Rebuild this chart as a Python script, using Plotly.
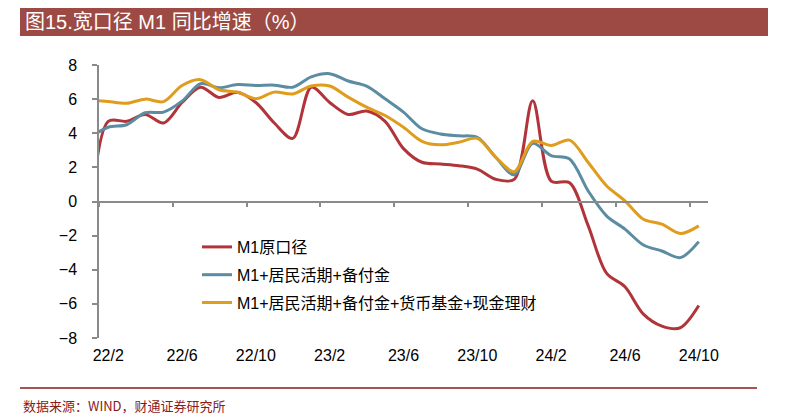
import plotly.graph_objects as go

# ---- data ----
months = ["22/1", "22/2", "22/3", "22/4", "22/5", "22/6", "22/7", "22/8", "22/9", "22/10", "22/11", "22/12",
          "23/1", "23/2", "23/3", "23/4", "23/5", "23/6", "23/7", "23/8", "23/9", "23/10", "23/11", "23/12",
          "24/1", "24/2", "24/3", "24/4", "24/5", "24/6", "24/7", "24/8", "24/9", "24/10"]

m1_raw = [-1.9, 4.7, 4.7, 5.1, 4.6, 5.8, 6.7, 6.1, 6.4, 5.8, 4.6, 3.7,
          6.7, 5.8, 5.1, 5.3, 4.7, 3.1, 2.3, 2.2, 2.1, 1.9, 1.3, 1.3,
          5.9, 1.2, 1.1, -1.4, -4.2, -5.0, -6.6, -7.3, -7.4, -6.1]

m1_plus_hh = [3.75, 4.35, 4.5, 5.2, 5.24, 5.88, 6.9, 6.67, 6.85, 6.8, 6.82, 6.7,
              7.3, 7.49, 7.06, 6.76, 6.02, 5.24, 4.26, 3.96, 3.85, 3.76, 2.59, 1.57,
              3.41, 2.69, 2.49, 0.63, -0.84, -1.62, -2.55, -2.9, -3.29, -2.35]

m1_plus_all = [5.95, 5.86, 5.76, 6.0, 5.85, 6.8, 7.14, 6.55, 6.41, 6.02, 6.41, 6.3,
               6.77, 6.77, 6.12, 5.53, 5.04, 4.35, 3.53, 3.32, 3.47, 3.7, 2.59, 1.75,
               3.53, 3.28, 3.6, 2.3, 0.92, 0.04, -1.04, -1.33, -1.88, -1.43]

series_names = ["M1原口径", "M1+居民活期+备付金", "M1+居民活期+备付金+货币基金+现金理财"]
label_months = ["22/2", "22/6", "22/10", "23/2", "23/6", "23/10", "24/2", "24/6", "24/10"]

title_text = "图15.宽口径 M1 同比增速（%）"
source_text = "数据来源：WIND，财通证券研究所"

# ---- figure ----
colors = ["#B0343A", "#5B8CA1", "#E09C1C"]
xidx = list(range(len(months)))

fig = go.Figure()
for i, (name, vals) in enumerate(zip(series_names, [m1_raw, m1_plus_hh, m1_plus_all])):
    fig.add_trace(go.Scatter(
        x=xidx, y=vals, name=name, mode="lines",
        line=dict(color=colors[i], width=3, shape="spline", smoothing=0.9),
        legendgroup=f"g{i}", hoverinfo="skip",
    ))

W, H = 786, 419
L, R, T, B = 99, 78, 65, 81
pw, ph = W - L - R, H - T - B

def px_x(p):
    return (p - L) / pw

def px_y(p):
    return (H - B - p) / ph

tickvals = [months.index(m) for m in label_months]

fig.update_layout(
    width=W, height=H,
    margin=dict(l=L, r=R, t=T, b=B),
    paper_bgcolor="white", plot_bgcolor="white",
    font=dict(family="Liberation Sans, Arial, Noto Sans CJK SC", size=16, color="black"),
    xaxis=dict(
        range=[0.5, len(months) - 0.5],
        anchor="free", position=0.5,
        showline=True, linecolor="#8a8a8a", linewidth=1.5,
        showgrid=False, zeroline=False,
        tickmode="array", tickvals=tickvals, ticktext=label_months,
        ticks="", ticklabelstandoff=140,
        tickfont=dict(size=16, color="black"),
        minor=dict(tickmode="linear", tick0=0.5, dtick=4, ticks="outside",
                   ticklen=5, tickwidth=1.5, tickcolor="#8a8a8a", showgrid=False),
    ),
    yaxis=dict(
        range=[-8, 8], dtick=2, tick0=0,
        showline=True, linecolor="#8a8a8a", linewidth=1.5,
        showgrid=False, zeroline=False,
        ticks="outside", ticklen=5, tickwidth=1.5, tickcolor="#8a8a8a",
        ticklabelstandoff=12,
        tickfont=dict(size=16, color="black"),
    ),
    legend=dict(
        x=px_x(197), y=px_y(230), xanchor="left", yanchor="top",
        bgcolor="rgba(0,0,0,0)", tracegroupgap=4,
        font=dict(family="Liberation Sans, Arial, Noto Sans CJK SC", size=16, color="black"),
    ),
    showlegend=True,
    shapes=[
        dict(type="rect", xref="paper", yref="paper",
             x0=px_x(20), x1=px_x(768), y0=px_y(36), y1=px_y(8),
             fillcolor="#9C4A43", line=dict(width=0), layer="below"),
        dict(type="line", xref="paper", yref="paper",
             x0=px_x(20), x1=px_x(757), y0=px_y(388), y1=px_y(388),
             line=dict(color="#8B1A1A", width=1.5)),
    ],
    annotations=[
        dict(text=title_text, xref="paper", yref="paper",
             x=px_x(23), y=px_y(22), xanchor="left", yanchor="middle",
             showarrow=False,
             font=dict(family="Liberation Sans, Noto Sans CJK SC", size=20, color="white")),
        dict(text=source_text, xref="paper", yref="paper",
             x=px_x(21), y=px_y(405), xanchor="left", yanchor="middle",
             showarrow=False,
             font=dict(family="Noto Sans CJK SC", size=13, color="#8B1A1A")),
    ],
)

fig.write_html("out.html", config={"displayModeBar": False},
               post_script="document.body.style.margin='0px';")
